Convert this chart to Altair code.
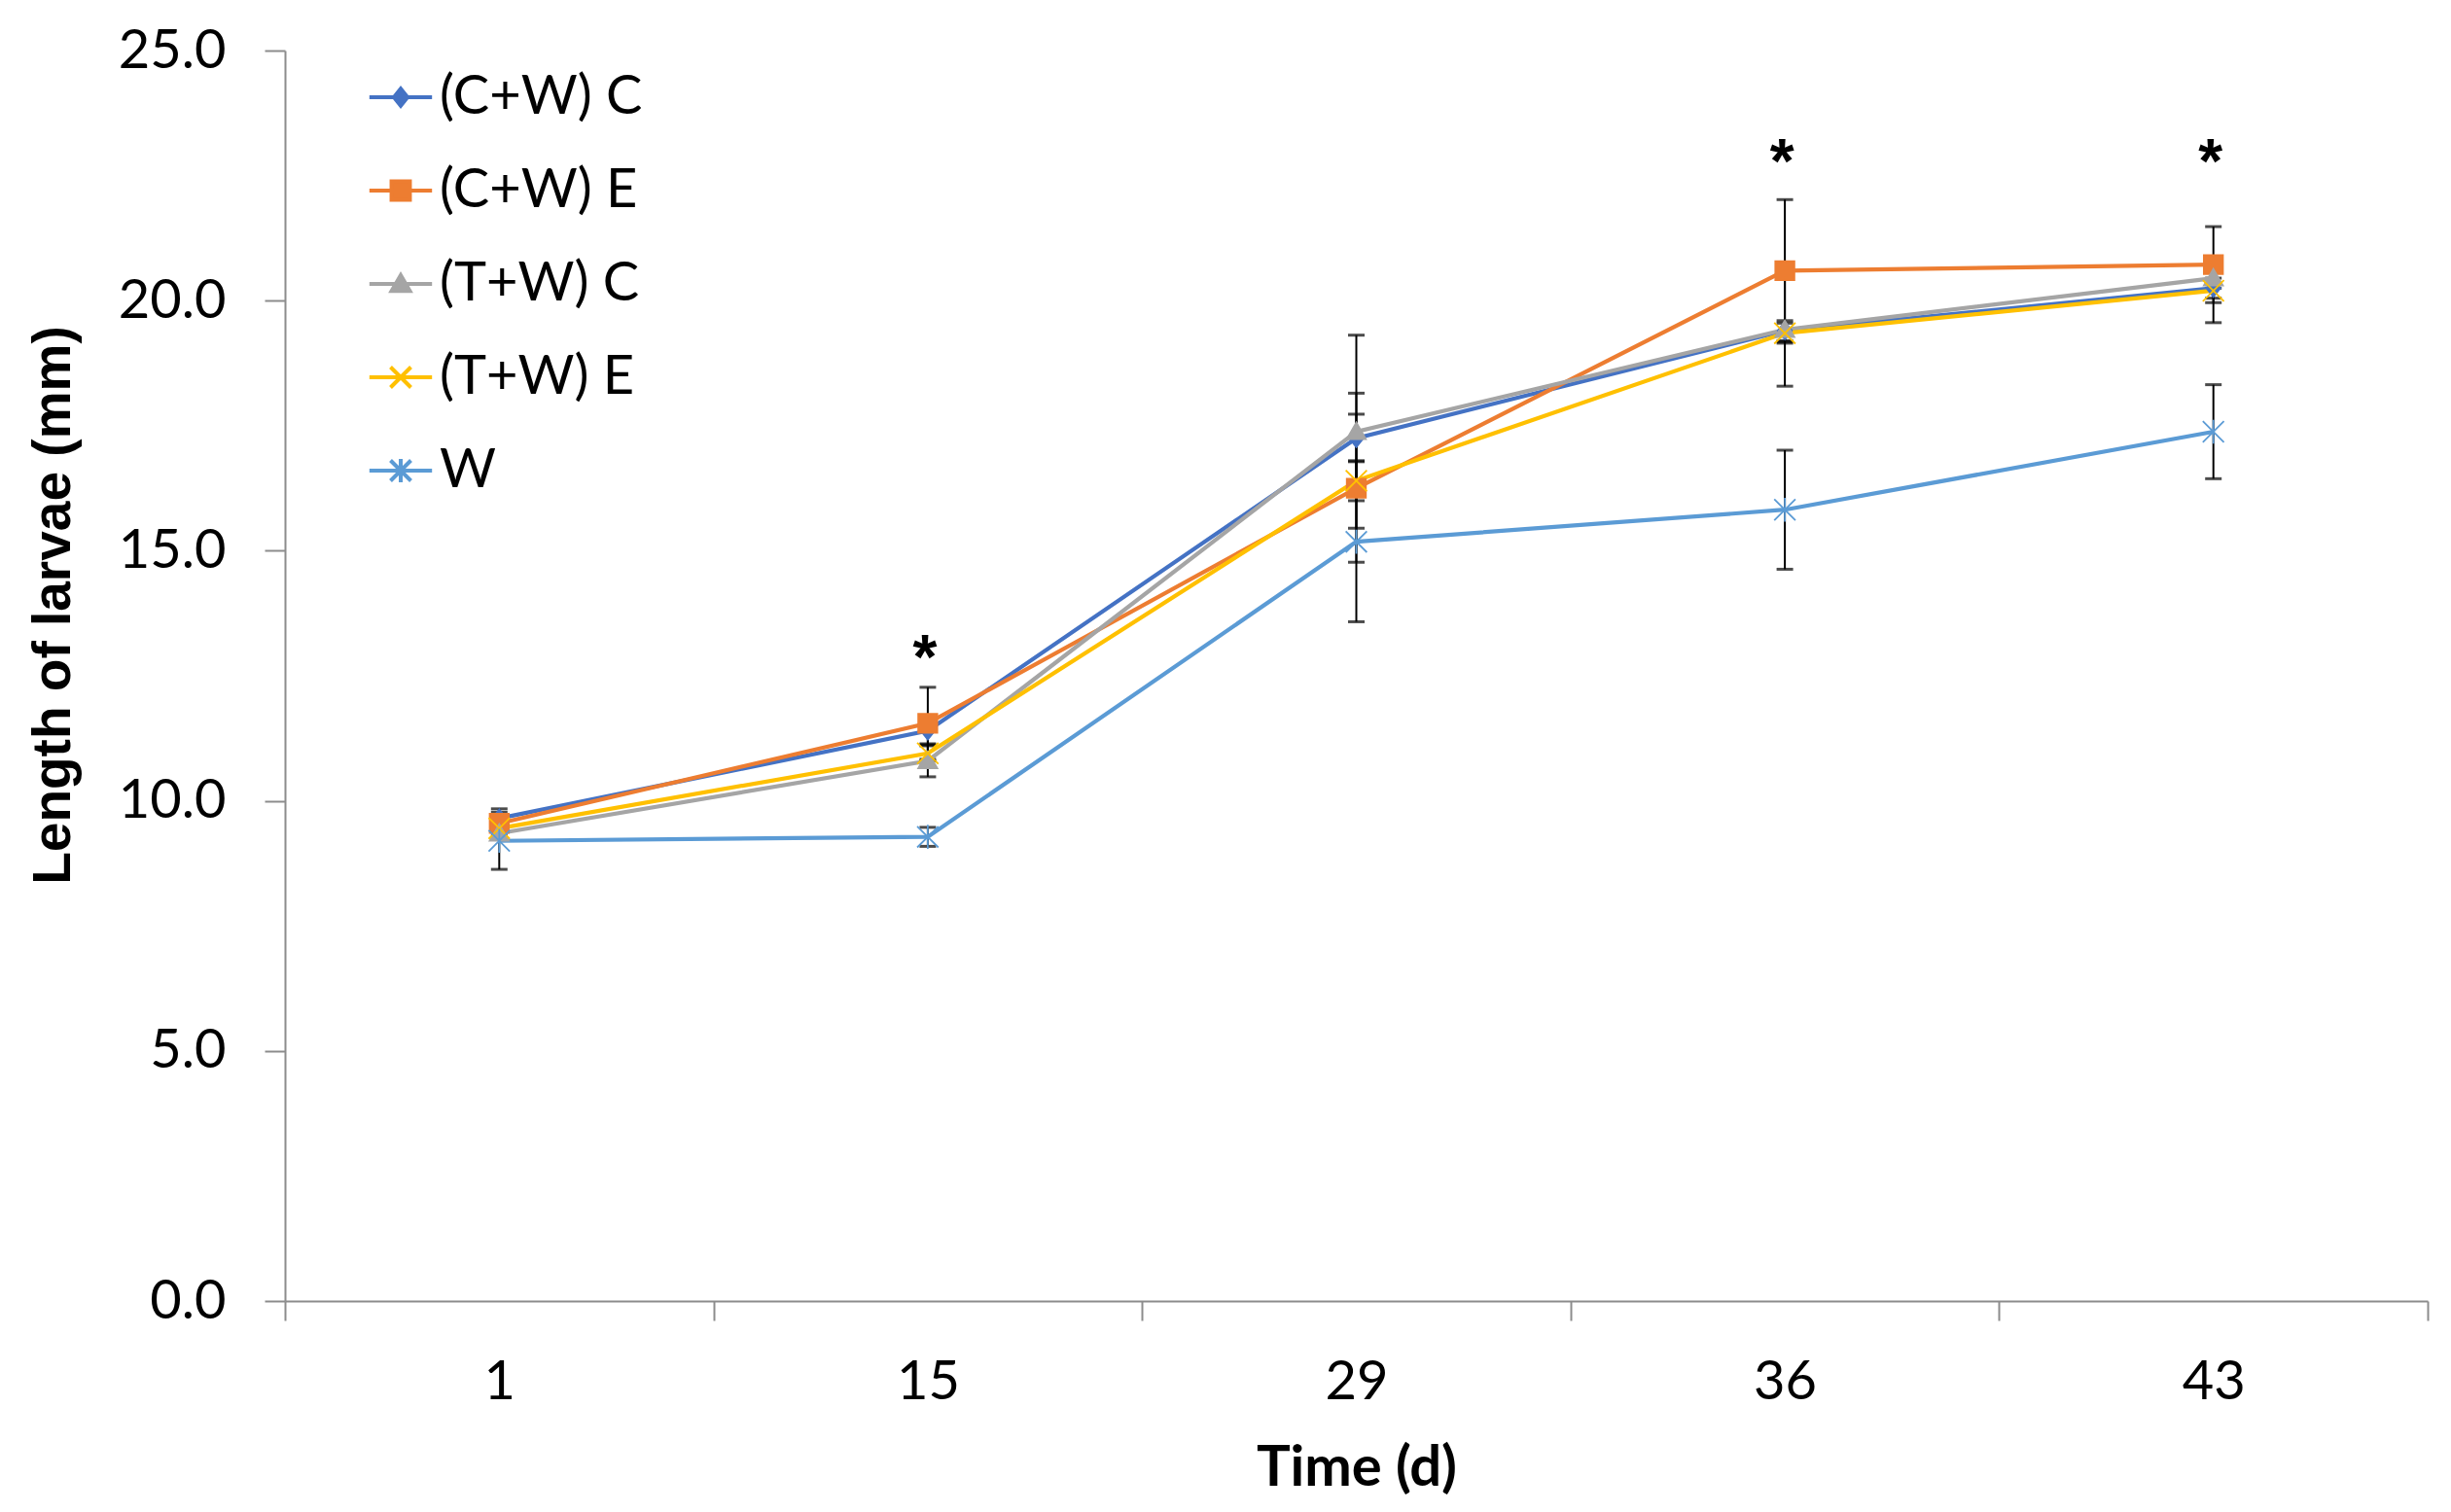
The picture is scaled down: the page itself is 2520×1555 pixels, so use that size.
import altair as alt
import pandas as pd

# ---- data ----
days = ["1", "15", "29", "36", "43"]
series = ["(C+W) C", "(C+W) E", "(T+W) C", "(T+W) E", "W"]

cw_c = [9.65, 11.40, 17.25, 19.40, 20.25]
cw_e = [9.55, 11.55, 16.25, 20.60, 20.72]
tw_c = [9.35, 10.80, 17.38, 19.42, 20.45]
tw_e = [9.45, 10.95, 16.40, 19.35, 20.20]
w_only = [9.20, 9.28, 15.18, 15.82, 17.38]

err_cw_c = [0.19, 0.26, 0.90, 0.20, 0.20]
err_cw_e = [0.15, 0.72, 1.48, 1.42, 0.76]
err_tw_c = [0.12, 0.32, 1.93, 1.13, 0.20]
err_tw_e = [0.12, 0.15, 0.40, 0.20, 0.64]
err_w = [0.57, 0.19, 1.60, 1.19, 0.94]

star_days = ["15", "36", "43"]
star_y = [13.12, 23.03, 23.03]
star_text = ["*", "*", "*"]

colors = ["#4472C4", "#ED7D31", "#A5A5A5", "#FFC000", "#5B9BD5"]

# marker paths (unit = sqrt(size)/2)
m_diamond = "M-1,0L0,-1.25L1,0L0,1.25Z"
m_square = "M-1.35,-1.35L1.35,-1.35L1.35,1.35L-1.35,1.35Z"
m_triangle = "M0,-1.3L1.35,1.05L-1.35,1.05Z"
m_x = "M-1.5,-1.5L1.5,1.5M-1.5,1.5L1.5,-1.5"
m_aster = "M-1.5,-1.5L1.5,1.5M-1.5,1.5L1.5,-1.5M0,-1.7L0,1.7"
markers = [m_diamond, m_square, m_triangle, m_x, m_aster]
seg = "M-4.6,0L4.6,0"
legend_shapes = [seg + m for m in markers]

vals = [cw_c, cw_e, tw_c, tw_e, w_only]
errs = [err_cw_c, err_cw_e, err_tw_c, err_tw_e, err_w]

rows = []
for s, v, e in zip(series, vals, errs):
    for d, yv, ev in zip(days, v, e):
        rows.append({"series": s, "day": d, "value": yv, "lo": yv - ev, "hi": yv + ev})
df = pd.DataFrame(rows)
stars = pd.DataFrame({"day": star_days, "y": star_y, "t": star_text})

FONT = "Lato"
AX = "#8c8c8c"

xenc = alt.X(
    "day:N", sort=days, bandPosition=0.5,
    scale=alt.Scale(type="band", paddingInner=0, paddingOuter=0, domain=days),
    axis=alt.Axis(
        title="Time (d)", labelAngle=0, tickBand="extent", grid=False,
        domainColor=AX, domainWidth=2, tickColor=AX, tickWidth=2, tickSize=20,
        labelFont=FONT, labelFontSize=56, labelColor="black", labelPadding=36,
        titleFont=FONT, titleFontSize=58, titleFontWeight="bold", titleColor="black",
        titleBaseline="alphabetic", titleY=189,
    ),
)
yscale = alt.Scale(domain=[0, 25], nice=False, zero=True)
yaxis = alt.Axis(
    values=[0, 5, 10, 15, 20, 25], format=".1f", grid=False,
    domainColor=AX, domainWidth=2, tickColor=AX, tickWidth=2, tickSize=21,
    labelFont=FONT, labelFontSize=56, labelColor="black", labelPadding=40,
    title="Length of larvae (mm)", titleFont="Liberation Sans", titleFontSize=55,
    titleFontWeight="bold", titleColor="black", titleAngle=-90,
    titleX=-222, titleY=570, titleBaseline="alphabetic", titleAlign="center",
)
xplain = alt.X("day:N", sort=days, bandPosition=0.5)

base = alt.Chart(df)

rules = base.mark_rule(color="black", strokeWidth=2).encode(
    x=xenc, y=alt.Y("lo:Q", scale=yscale, axis=yaxis), y2="hi:Q"
)
cap_lo = base.mark_tick(color="black", thickness=3, size=17, orient="horizontal").encode(
    x=xplain, y="lo:Q"
)
cap_hi = base.mark_tick(color="black", thickness=3, size=17, orient="horizontal").encode(
    x=xplain, y="hi:Q"
)

cscale = alt.Scale(domain=series, range=colors)

lines = base.mark_line(strokeWidth=4.2).encode(
    x=xplain, y="value:Q",
    stroke=alt.Stroke("series:N", scale=cscale, legend=None),
)
points = base.mark_point(filled=True, size=210, strokeWidth=1.8, opacity=1).encode(
    x=xplain, y="value:Q",
    shape=alt.Shape("series:N", scale=alt.Scale(domain=series, range=markers), legend=None),
    fill=alt.Fill("series:N", scale=cscale, legend=None),
    stroke=alt.Stroke("series:N", scale=cscale, legend=None),
)

leg = alt.Legend(
    orient="none", legendX=91, legendY=20, title=None, padding=0,
    labelFont=FONT, labelFontSize=56, labelColor="black", labelLimit=600,
    symbolSize=196, rowPadding=40, labelOffset=12, symbolOpacity=1,
    symbolStrokeWidth=4,
)
legend_layer = base.mark_point(filled=True, size=196, strokeWidth=4, opacity=0).encode(
    x=xplain, y="value:Q",
    shape=alt.Shape("series:N", scale=alt.Scale(domain=series, range=legend_shapes), legend=leg),
    fill=alt.Fill("series:N", scale=cscale, legend=leg),
    stroke=alt.Stroke("series:N", scale=cscale, legend=leg),
)

star_layer = alt.Chart(stars).mark_text(
    font="Liberation Sans", fontSize=64, fontWeight="bold", baseline="alphabetic",
    dy=35, dx=-3, color="black",
).encode(x=xplain, y="y:Q", text="t:N")

chart = alt.layer(
    rules, cap_lo, cap_hi, lines, points, legend_layer, star_layer
).resolve_scale(
    stroke="independent", fill="independent", shape="independent"
).properties(
    width=2203, height=1286,
    padding={"left": 285, "top": 44, "right": 16, "bottom": 209},
    autosize=alt.AutoSizeParams(type="none"),
    background="white",
).configure_view(stroke=None)

chart.save("out.html", embed_options={"renderer": "svg", "actions": False})
